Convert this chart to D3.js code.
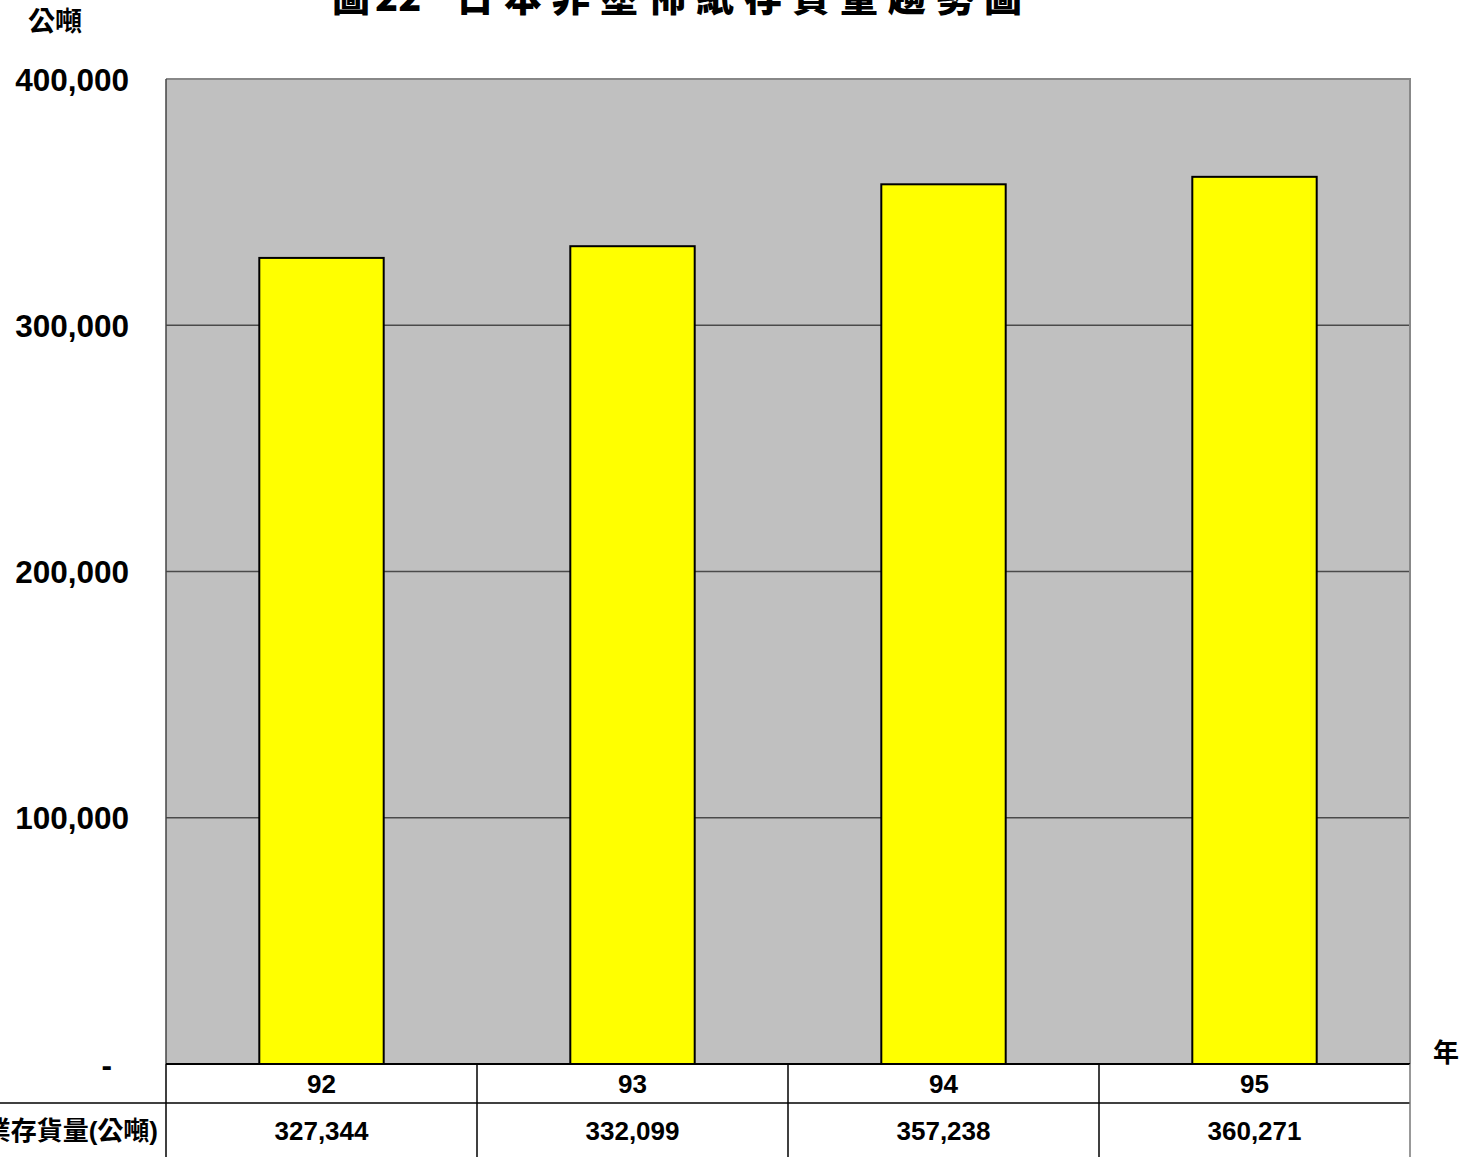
<!DOCTYPE html>
<html><head><meta charset="utf-8">
<script src="https://cdn.jsdelivr.net/npm/d3@7"></script>
<style>
html,body{margin:0;padding:0;background:#fff;overflow:hidden;}
svg{display:block;}
</style></head>
<body>
<script>
const categories = ["92", "93", "94", "95"];
const values = [327344, 332099, 357238, 360271];
const yTicks = [0, 100000, 200000, 300000, 400000];
const titleParts = ["圖", "22", "日本非塗佈紙存貨量趨勢圖"];
const yUnit = "公噸";
const xUnit = "年";
const rowLabel = "業存貨量(公噸)";

const W = 1463, H = 1157;
const L = 166, R = 1410, T = 79, B = 1064;
const font = "'Liberation Sans', Arial, 'Noto Sans CJK TC', sans-serif";

const svg = d3.select("body").append("svg").attr("width", W).attr("height", H);

const x = d3.scaleBand().domain(categories).range([L, R]).paddingInner(0.6).paddingOuter(0.3);
const xCell = d3.scaleBand().domain(categories).range([L, R]).padding(0);
const y = d3.scaleLinear().domain([0, 400000]).range([B, T]);

// plot background
svg.append("rect").attr("x", L).attr("y", T).attr("width", R - L).attr("height", B - T).attr("fill", "#c0c0c0");

// gridlines
svg.append("g").selectAll("line").data(yTicks.filter(d => d > 0 && d < 400000)).join("line")
  .attr("x1", L).attr("x2", R).attr("y1", d => y(d)).attr("y2", d => y(d))
  .attr("stroke", "#4a4a4a").attr("stroke-width", 1.5);

// plot border top/right
svg.append("path").attr("d", `M${L},${T}H${R}V${B}`).attr("fill", "none").attr("stroke", "#888").attr("stroke-width", 2);

// bars
svg.append("g").selectAll("rect").data(values).join("rect")
  .attr("x", (d, i) => x(categories[i]))
  .attr("width", x.bandwidth())
  .attr("y", d => y(d))
  .attr("height", d => B - y(d))
  .attr("fill", "#ffff00").attr("stroke", "#000").attr("stroke-width", 2);

// left axis line
svg.append("line").attr("x1", L).attr("x2", L).attr("y1", T).attr("y2", B).attr("stroke", "#444").attr("stroke-width", 1.5);

// y-axis via d3 axis
const yAxis = d3.axisLeft(y).tickValues(yTicks).tickSize(0).tickPadding(0)
  .tickFormat(d => d === 0 ? "-" : d3.format(",")(d));
const ga = svg.append("g").attr("transform", `translate(${L - 37},0)`).call(yAxis);
ga.select(".domain").remove();
ga.selectAll("text").attr("font-family", font).attr("font-weight", "bold").attr("font-size", 31.5)
  .attr("fill", "#000").attr("dy", "0.35em")
  .attr("x", d => d === 0 ? -17 : 0);

// table
const tbl = svg.append("g");
const rowMid = 1103, rowEnd = 1157;
tbl.append("line").attr("x1", L).attr("x2", R).attr("y1", B).attr("y2", B).attr("stroke", "#000").attr("stroke-width", 2);
tbl.append("line").attr("x1", 0).attr("x2", R).attr("y1", rowMid).attr("y2", rowMid).attr("stroke", "#000").attr("stroke-width", 1.5);
const vlines = categories.map(c => xCell(c)).concat([R]);
tbl.selectAll("line.v").data(vlines).join("line").attr("class", "v")
  .attr("x1", d => d).attr("x2", d => d).attr("y1", B).attr("y2", rowEnd)
  .attr("stroke", (d, i) => i === vlines.length - 1 ? "#777" : "#000").attr("stroke-width", 1.5);

tbl.selectAll("text.cat").data(categories).join("text").attr("class", "cat")
  .attr("x", d => xCell(d) + xCell.bandwidth() / 2).attr("y", 1084).attr("dy", "0.35em")
  .attr("text-anchor", "middle").attr("font-family", font).attr("font-weight", "bold").attr("font-size", 26)
  .text(d => d);
tbl.selectAll("text.val").data(values).join("text").attr("class", "val")
  .attr("x", (d, i) => xCell(categories[i]) + xCell.bandwidth() / 2).attr("y", 1131).attr("dy", "0.35em")
  .attr("text-anchor", "middle").attr("font-family", font).attr("font-weight", "bold").attr("font-size", 26)
  .text(d => d3.format(",")(d));
tbl.append("text").attr("x", 158).attr("y", 1131).attr("dy", "0.35em").attr("text-anchor", "end")
  .attr("font-family", font).attr("font-weight", "bold").attr("font-size", 26).text(rowLabel);

// title (top half cut off by the page edge, as in the reference)
const tt = svg.append("text").attr("y", 11)
  .attr("font-family", "'Noto Sans CJK TC', sans-serif").attr("font-weight", 900).attr("font-size", 38);
tt.append("tspan").attr("x", 332).text(titleParts[0]);
tt.append("tspan").attr("x", 375).text(titleParts[1]);
tt.append("tspan").attr("x", 456).attr("letter-spacing", 10).text(titleParts[2]);

// units
svg.append("text").attr("x", 28).attr("y", 31).attr("font-family", "'Noto Sans CJK TC', sans-serif")
  .attr("font-weight", "bold").attr("font-size", 27).text(yUnit);
svg.append("text").attr("x", 1433).attr("y", 1062).attr("font-family", "'Noto Sans CJK TC', sans-serif")
  .attr("font-weight", "bold").attr("font-size", 26).text(xUnit);
</script>
</body></html>
